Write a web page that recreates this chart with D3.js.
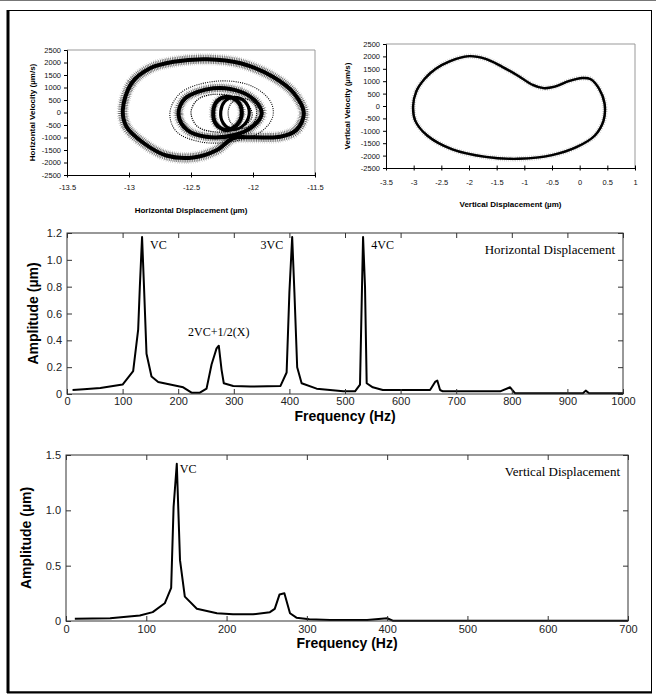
<!DOCTYPE html>
<html><head><meta charset="utf-8">
<script src="https://cdn.jsdelivr.net/npm/d3@7"></script>
<style>body{margin:0;background:#fff}svg{display:block}</style>
</head><body><svg id="c" width="656" height="695"></svg>
<script>
// ---------- DATA ----------
// Horizontal phase portrait: closed loops [displacement µm, velocity µm/s]
const hOuter = [[-13.05,100],[-12.98,1170],[-12.83,1770],[-12.64,2030],[-12.37,2130],[-12.1,1970],[-11.84,1430],[-11.67,770],[-11.59,-30],[-11.65,-700],[-11.78,-970],[-12.0,-990],[-12.16,-1030],[-12.29,-1500],[-12.48,-1800],[-12.7,-1720],[-12.88,-1230],[-13.02,-570]];
const hMid1 = [[-12.3,1250],[-12.02,1080],[-11.86,450],[-11.84,-150],[-11.93,-750],[-12.15,-1150],[-12.42,-1180],[-12.62,-750],[-12.67,0],[-12.58,800]];
const hMid2 = [[-12.32,970],[-12.1,830],[-11.97,400],[-11.93,-50],[-12.0,-550],[-12.15,-900],[-12.38,-970],[-12.53,-700],[-12.6,-100],[-12.55,550]];
const hMid3 = [[-12.33,720],[-12.15,620],[-12.03,250],[-12.01,-200],[-12.1,-620],[-12.3,-780],[-12.45,-550],[-12.5,0],[-12.45,500]];
const hSmall1 = [[-12.22,620],[-12.13,480],[-12.09,0],[-12.13,-500],[-12.22,-700],[-12.3,-450],[-12.32,50],[-12.29,450]];
const hSmall2 = [[-12.16,600],[-12.07,460],[-12.03,0],[-12.07,-480],[-12.16,-680],[-12.24,-430],[-12.26,50],[-12.23,430]];
const hSmall3 = [[-12.1,560],[-12.0,420],[-11.97,0],[-12.0,-440],[-12.1,-640],[-12.18,-400],[-12.2,50],[-12.17,400]];
// Vertical phase portrait
const vOrbit = [[-3.01,0],[-2.95,600],[-2.8,1100],[-2.6,1500],[-2.35,1800],[-2.0,2010],[-1.7,1900],[-1.4,1580],[-1.1,1200],[-0.85,850],[-0.65,720],[-0.45,780],[-0.2,1000],[0.05,1130],[0.2,1080],[0.35,700],[0.45,100],[0.43,-600],[0.27,-1200],[-0.05,-1650],[-0.5,-1980],[-1.1,-2130],[-1.7,-2050],[-2.3,-1750],[-2.75,-1200],[-2.97,-600]];
const phaseVelTicks = [-2500,-2000,-1500,-1000,-500,0,500,1000,1500,2000,2500];
const hDispTicks = [-13.5,-13,-12.5,-12,-11.5];
const vDispTicks = [-3.5,-3,-2.5,-2,-1.5,-1,-0.5,0,0.5,1];

// Horizontal displacement spectrum
const hFreq = [10,30,60,100,119,128,131,135,138.5,143,152,164,209,224,239,251,260,266,269,273,278,282,299,330,384,395,400,405,409,414,422,449,473,497,518,527,531,532.5,536,539,550,568,653,662,666,671,676,779,797,806,928,933,939,1000];
const hAmp  = [0.03,0.035,0.045,0.07,0.17,0.48,0.8,1.17,0.8,0.3,0.13,0.09,0.05,0.01,0.01,0.04,0.22,0.3,0.34,0.36,0.18,0.08,0.06,0.055,0.06,0.16,0.76,1.17,0.76,0.2,0.08,0.04,0.03,0.02,0.02,0.07,0.88,1.17,0.8,0.08,0.05,0.03,0.03,0.09,0.1,0.03,0.02,0.02,0.05,0.005,0.005,0.025,0.005,0.005];
const hFreqTicks = [0,100,200,300,400,500,600,700,800,900,1000];
const hAmpTicks = [0,0.2,0.4,0.6,0.8,1.0,1.2];
const hNotes = [["VC",135,1.17],["3VC",405,1.17],["4VC",533,1.17],["2VC+1/2(X)",273,0.36]];

// Vertical displacement spectrum
const vFreq = [11,55,92,108,123,131,134,138,142,148,163,188,208,233,254,260,266,272,279,287,303,329,375,400,407,700];
const vAmp  = [0.02,0.025,0.05,0.08,0.16,0.3,1.03,1.42,0.55,0.22,0.11,0.07,0.06,0.06,0.08,0.11,0.24,0.25,0.07,0.03,0.015,0.01,0.01,0.025,0.003,0.003];
const vFreqTicks = [0,100,200,300,400,500,600,700];
const vAmpTicks = [0,0.5,1.0,1.5];

// ---------- DRAW ----------
const svg = d3.select("#c");
svg.append("rect").attr("width",656).attr("height",695).attr("fill","#fff");
svg.append("line").attr("x1",0).attr("x2",656).attr("y1",0.5).attr("y2",0.5).attr("stroke","#777");
svg.append("rect").attr("x",8).attr("y",10.5).attr("width",643.5).attr("height",681.5)
  .attr("fill","none").attr("stroke","#000").attr("stroke-width",1);
svg.append("line").attr("x1",8).attr("x2",8).attr("y1",10).attr("y2",693).attr("stroke","#000").attr("stroke-width",3);
svg.append("line").attr("x1",7).attr("x2",652).attr("y1",692.5).attr("y2",692.5).attr("stroke","#000").attr("stroke-width",2);

const AR = "Arial, 'Liberation Sans', sans-serif";
const SERIF = "'Times New Roman', 'Liberation Serif', serif";

function phase(c){
  const x = d3.scaleLinear().domain(c.xd).range([c.x0,c.x1]);
  const y = d3.scaleLinear().domain([-2500,2500]).range([c.y1,c.y0]);
  const g = svg.append("g");
  g.append("path").attr("d",`M${c.x0},${c.y0}H${c.x1}V${c.y1}`).attr("fill","none").attr("stroke","#999");
  const line = d3.line().x(d=>x(d[0])).y(d=>y(d[1])).curve(d3.curveCatmullRomClosed.alpha(0.5));
  c.loops.forEach(L=>{
    if(L.halo){
      g.append("path").attr("d",line(L.data)).attr("fill","none").attr("stroke","#000")
        .attr("stroke-width",L.halo+3).attr("stroke-dasharray","0.5 1.6").attr("opacity",0.3);
      g.append("path").attr("d",line(L.data)).attr("fill","none").attr("stroke","#000")
        .attr("stroke-width",L.halo).attr("stroke-dasharray","0.8 0.9").attr("opacity",0.55);
    }
    g.append("path").attr("d",line(L.data)).attr("fill","none").attr("stroke","#000")
      .attr("stroke-width",L.w).attr("stroke-dasharray",L.dash||null);
  });
  const ax = g.append("g").attr("transform",`translate(0,${c.y1})`)
    .call(d3.axisBottom(x).tickValues(c.xt).tickFormat(d=>String(d)).tickSize(0))
    .attr("font-family",AR).attr("font-size",7.5);
  ax.select(".domain").attr("stroke","#000");
  ax.selectAll(".tick line").attr("y1",-2.5).attr("y2",2.5).attr("stroke","#000");
  ax.selectAll(".tick text").attr("y",c.xly).attr("dy",null).attr("fill","#111");
  const ay = g.append("g").attr("transform",`translate(${c.x0},0)`)
    .call(d3.axisLeft(y).tickValues(phaseVelTicks).tickFormat(d=>String(d)).tickSize(3).tickPadding(3))
    .attr("font-family",AR).attr("font-size",7.5);
  ay.select(".domain").attr("stroke","#000");
  ay.selectAll(".tick line").attr("stroke","#000");
  ay.selectAll(".tick text").attr("fill","#111");
  g.append("text").attr("x",(c.x0+c.x1)/2).attr("y",c.xtitleY).attr("text-anchor","middle")
    .attr("font-family",AR).attr("font-weight","bold").attr("font-size",8).text(c.xtitle);
  g.append("text").attr("transform",`translate(${c.ytitleX},${(c.y0+c.y1)/2}) rotate(-90)`).attr("text-anchor","middle")
    .attr("font-family",AR).attr("font-weight","bold").attr("font-size",8).text(c.ytitle);
}

phase({xd:[-13.5,-11.5],x0:67,x1:315,y0:50,y1:175,xt:hDispTicks,xly:15,xtitleY:213,ytitleX:35,
  xtitle:"Horizontal Displacement (µm)",ytitle:"Horizontal Velocity (µm/s)",
  loops:[
    {data:hOuter,w:4,halo:9},
    {data:hMid1,w:1.1,dash:"1 1.2"},
    {data:hMid2,w:4,halo:8},
    {data:hMid3,w:1.2,dash:"1.2 1"},
    {data:hSmall1,w:4,halo:6},
    {data:hSmall2,w:3.2},
    {data:hSmall3,w:1.2,dash:"1 1"}
  ]});

phase({xd:[-3.5,1],x0:386,x1:635,y0:44,y1:168,xt:vDispTicks,xly:17,xtitleY:207,ytitleX:350,
  xtitle:"Vertical Displacement (µm)",ytitle:"Vertical Velocity (µm/s)",
  loops:[{data:vOrbit,w:2.4,halo:2.5}]});

function spectrum(c){
  const x = d3.scaleLinear().domain([0,c.xmax]).range([c.x0,c.x1]);
  const y = d3.scaleLinear().domain([0,c.ymax]).range([c.y1,c.y0]);
  const g = svg.append("g");
  const line = d3.line().x((d,i)=>x(c.f[i])).y(d=>y(d));
  g.append("path").attr("d",line(c.a)).attr("fill","none").attr("stroke","#000")
    .attr("stroke-width",2).attr("stroke-linejoin","round");
  g.append("rect").attr("x",c.x0).attr("y",c.y0).attr("width",c.x1-c.x0).attr("height",c.y1-c.y0)
    .attr("fill","none").attr("stroke","#333").attr("stroke-width",1);
  const fmtY = d=> d===0 ? "0" : d.toFixed(1);
  const ab = g.append("g").attr("transform",`translate(0,${c.y1})`)
    .call(d3.axisBottom(x).tickValues(c.xt).tickFormat(d=>String(d)).tickSize(-5).tickPadding(c.xpad))
    .attr("font-family",AR).attr("font-size",11);
  const at = g.append("g").attr("transform",`translate(0,${c.y0})`)
    .call(d3.axisTop(x).tickValues(c.xt).tickSize(-5).tickFormat(""));
  const al = g.append("g").attr("transform",`translate(${c.x0},0)`)
    .call(d3.axisLeft(y).tickValues(c.yt).tickFormat(fmtY).tickSize(-5).tickPadding(5))
    .attr("font-family",AR).attr("font-size",11);
  const ar = g.append("g").attr("transform",`translate(${c.x1},0)`)
    .call(d3.axisRight(y).tickValues(c.yt).tickSize(-5).tickFormat(""));
  [ab,at,al,ar].forEach(a=>{a.select(".domain").remove(); a.selectAll(".tick line").attr("stroke","#333"); a.selectAll(".tick text").attr("fill","#222");});
  g.append("text").attr("x",(c.x0+c.x1)/2).attr("y",c.xtitleY).attr("text-anchor","middle")
    .attr("font-family",AR).attr("font-weight","bold").attr("font-size",14).text("Frequency (Hz)");
  g.append("text").attr("transform",`translate(${c.ytitleX},${(c.y0+c.y1)/2}) rotate(-90)`).attr("text-anchor","middle")
    .attr("font-family",AR).attr("font-weight","bold").attr("font-size",14).text("Amplitude (µm)");
  c.notes.forEach(n=>{
    g.append("text").attr("x",x(n[1])+n[3]).attr("y",y(n[2])+n[4]).attr("font-family",SERIF).attr("font-size",12)
      .attr("text-anchor",n[5]||"start").text(n[0]);
  });
  g.append("text").attr("x",c.x1-8).attr("y",c.y0+c.titleDy).attr("text-anchor","end")
    .attr("font-family",SERIF).attr("font-size",13).text(c.title);
}

spectrum({xmax:1000,ymax:1.2,x0:67,x1:623,y0:233,y1:394,f:hFreq,a:hAmp,xt:hFreqTicks,yt:hAmpTicks,xpad:3,
  xtitleY:421,ytitleX:38,title:"Horizontal Displacement",titleDy:21,
  notes:[[hNotes[0][0],hNotes[0][1],hNotes[0][2],8,12],[hNotes[1][0],hNotes[1][1],hNotes[1][2],-9,12,"end"],
         [hNotes[2][0],hNotes[2][1],hNotes[2][2],8,12],[hNotes[3][0],hNotes[3][1],hNotes[3][2],0,-10,"middle"]]});

spectrum({xmax:700,ymax:1.5,x0:66,x1:628,y0:455,y1:621,f:vFreq,a:vAmp,xt:vFreqTicks,yt:vAmpTicks,xpad:4,
  xtitleY:648,ytitleX:31,title:"Vertical Displacement",titleDy:21,
  notes:[["VC",138,1.42,3,9]]});
</script></body></html>
